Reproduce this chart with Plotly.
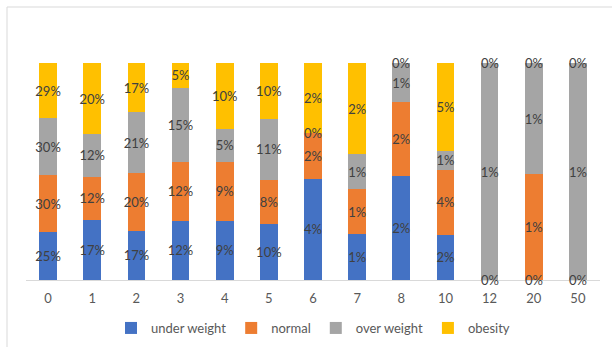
import plotly.graph_objects as go

# Age groups on the x axis
categories = ["0", "1", "2", "3", "4", "5", "6", "7", "8", "10", "12", "20", "50"]

# Share of the sample (%) in each weight class per group
under_weight = [25, 17, 17, 12, 9, 10, 3.55, 1.06, 2.29, 2.45, 0, 0, 0]
normal = [30, 12, 20, 12, 9, 8, 1.6, 1.03, 1.64, 3.55, 0, 0.95, 0]
over_weight = [30, 12, 21, 15, 5, 11, 0, 0.81, 0.87, 1.0, 1.0, 1.0, 1.0]
obesity = [29, 20, 17, 5, 10, 10, 2.45, 2.1, 0, 4.8, 0, 0, 0]

series_names = ["under weight", "normal", "over weight", "obesity"]
series_values = [under_weight, normal, over_weight, obesity]
series_colors = ["#4472C4", "#ED7D31", "#A5A5A5", "#FFC000"]

LABEL_FONT = dict(family="Lato, 'Noto Sans', sans-serif", size=13, color="#404040")

fig = go.Figure()
for name, vals, color in zip(series_names, series_values, series_colors):
    fig.add_trace(go.Bar(
        name=name,
        x=categories,
        y=vals,
        marker=dict(color=color, line=dict(width=0)),
        text=[f"{v:.0f}%" if v > 0 else "" for v in vals],
        textposition="inside",
        insidetextanchor="middle",
        textangle=0,
        constraintext="none",
        textfont=LABEL_FONT,
        cliponaxis=False,
    ))

# Zero-valued segments still carry a "0%" label at their stack position
# (segments that collapse onto the same spot share one label)
totals = [sum(s[i] for s in series_values) for i in range(len(categories))]
for i in range(len(categories)):
    cum = 0.0
    placed = set()
    for vals in series_values:
        v = vals[i]
        if v == 0:
            pos = round(cum / totals[i] * 100, 6)
            if pos not in placed:
                placed.add(pos)
                fig.add_annotation(
                    x=i, y=pos, text="0%", showarrow=False,
                    xref="x", yref="y", yanchor="middle", font=LABEL_FONT,
                )
        cum += v

# Light chart-area frame (top and left edges fall inside the canvas)
L, R, T, B = 26, 12, 63, 67
W, H = 612 - L - R, 347 - T - B
fig.add_shape(
    type="rect", xref="paper", yref="paper",
    x0=(7 - L) / W, x1=(700 - L) / W,
    y0=(347 - B - 420) / H, y1=(347 - B - 7) / H,
    line=dict(color="#D9D9D9", width=1), fillcolor="rgba(0,0,0,0)", layer="below",
)

fig.update_layout(
    width=612, height=347,
    margin=dict(l=L, r=R, t=T, b=B, autoexpand=False),
    barmode="stack",
    barnorm="percent",
    bargap=0.6,
    plot_bgcolor="white",
    paper_bgcolor="white",
    font=dict(family="Lato, 'Noto Sans', sans-serif", color="#595959"),
    showlegend=True,
    legend=dict(
        orientation="h", x=0.5, xanchor="center",
        yref="container", y=1 - 328 / 347, yanchor="middle",
        font=dict(size=13, color="#595959"), itemwidth=30, traceorder="normal",
    ),
    xaxis=dict(
        type="category", range=[-0.5, len(categories) - 0.5],
        showline=True, linecolor="#D9D9D9", linewidth=1,
        ticks="outside", ticklen=6, tickcolor="rgba(0,0,0,0)",
        tickfont=dict(size=13, color="#595959"),
        showgrid=False, zeroline=False,
    ),
    yaxis=dict(
        range=[0, 100], visible=False, showgrid=False, zeroline=False,
    ),
)

fig.write_html("out.html")
